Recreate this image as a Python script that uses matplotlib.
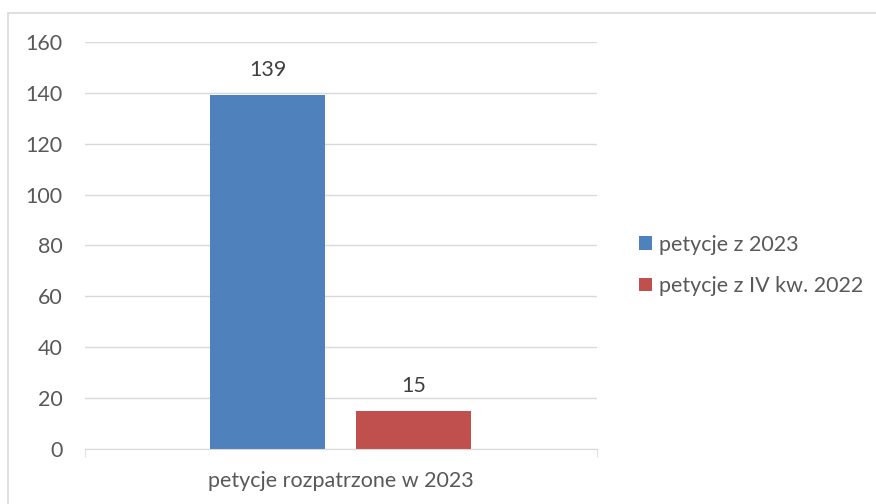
import matplotlib
matplotlib.use("Agg")
import matplotlib.pyplot as plt
from matplotlib.patches import Rectangle

categories = ["petycje rozpatrzone w 2023"]
series_names = ["petycje z 2023", "petycje z IV kw. 2022"]
series_values = [[139], [15]]
colors = ["#4F81BD", "#C0504D"]
yticks = [0, 20, 40, 60, 80, 100, 120, 140, 160]

W, H = 876, 504
fig = plt.figure(figsize=(W / 100, H / 100), dpi=100)
plt.rcParams['font.family'] = ['Lato', 'DejaVu Sans']
txt = "#595959"
fs = 15.5

# outer chart border
fig.patches.append(Rectangle((8 / W, -0.1), 1.2, (H - 13) / H + 0.1, transform=fig.transFigure,
                             fill=False, edgecolor="#D9D9D9", linewidth=1.2))

ax = fig.add_axes([85 / W, (H - 449) / H, (597 - 85) / W, (449 - 42) / H])
offsets = [-0.1435, 0.1415]
width = 0.225
for name, vals, col, off in zip(series_names, series_values, colors, offsets):
    bars = ax.bar([i + off for i in range(len(categories))], vals, width=width, color=col, label=name, zorder=3)
    for b, v in zip(bars, vals):
        ax.annotate(str(v), (b.get_x() + b.get_width() / 2, v), xytext=(0, 11),
                    textcoords="offset points", ha="center", va="bottom",
                    fontsize=fs, color="#404040")

ax.set_xlim(-0.5, 0.5)
ax.set_ylim(0, 160)
ax.set_yticks(yticks)
ax.set_xticks(range(len(categories)))
ax.set_xticklabels(categories)
ax.tick_params(axis="y", length=0, labelsize=fs, labelcolor=txt, pad=16)
ax.tick_params(axis="x", length=0, labelsize=fs, labelcolor=txt, pad=16)
ax.grid(axis="y", color="#D9D9D9", linewidth=1, zorder=0)
for s in ["top", "right", "left"]:
    ax.spines[s].set_visible(False)
ax.spines["bottom"].set_color("#D9D9D9")
ax.spines["bottom"].set_zorder(4)
ax.set_xticks([-0.5, 0.5], minor=True)
ax.tick_params(axis="x", which="minor", length=6, color="#D9D9D9")

leg = ax.legend(loc="upper left", bbox_to_anchor=((630 - 85) / (597 - 85), (449 - 226) / (449 - 42)),
                frameon=False, fontsize=fs, handlelength=0.6, handleheight=0.6,
                handletextpad=0.35, labelspacing=1.0, borderaxespad=0)
for t in leg.get_texts():
    t.set_color(txt)

fig.savefig("out.png", dpi=100)
